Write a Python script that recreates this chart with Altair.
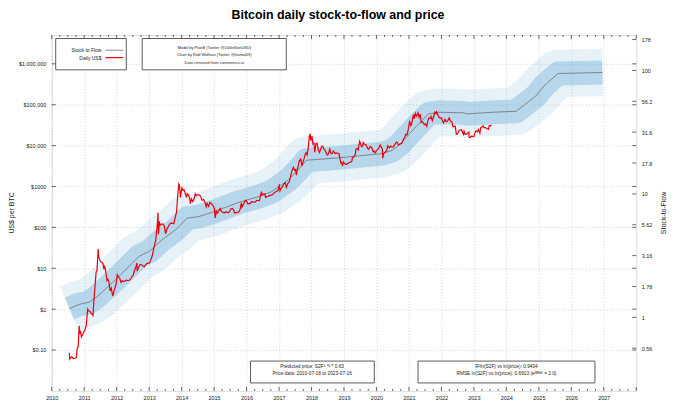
import altair as alt
import pandas as pd

# ---------------- data ----------------
price_dates = [
    "2010-07-18", "2010-07-22", "2010-08-01", "2010-08-15", "2010-09-01", "2010-09-20", "2010-10-05", "2010-10-15",
    "2010-10-25", "2010-11-06", "2010-11-10", "2010-11-20", "2010-12-01", "2010-12-15", "2010-12-28",
    "2011-01-10", "2011-01-25", "2011-02-09", "2011-02-20", "2011-03-05", "2011-03-20", "2011-04-01", "2011-04-10",
    "2011-04-20", "2011-05-01", "2011-05-15", "2011-05-25", "2011-06-02", "2011-06-08", "2011-06-13", "2011-06-20",
    "2011-07-01", "2011-07-15", "2011-07-25", "2011-08-01", "2011-08-10", "2011-08-20", "2011-09-01", "2011-09-15",
    "2011-09-25", "2011-10-05", "2011-10-20", "2011-11-01", "2011-11-18", "2011-11-28", "2011-12-10", "2011-12-25",
    "2012-01-08", "2012-01-15", "2012-01-25", "2012-02-05", "2012-02-20", "2012-03-05", "2012-03-20", "2012-04-05",
    "2012-04-20", "2012-05-05", "2012-05-20", "2012-06-05", "2012-06-20", "2012-07-05", "2012-07-20", "2012-08-05",
    "2012-08-16", "2012-08-19", "2012-09-01", "2012-09-18", "2012-10-05", "2012-10-20", "2012-11-05", "2012-11-20",
    "2012-12-05", "2012-12-20",
    "2013-01-05", "2013-01-20", "2013-02-05", "2013-02-20", "2013-03-05", "2013-03-15", "2013-03-28", "2013-04-05",
    "2013-04-10", "2013-04-12", "2013-04-16", "2013-04-25", "2013-05-05", "2013-05-20", "2013-06-05", "2013-06-20",
    "2013-07-05", "2013-07-20", "2013-08-05", "2013-08-20", "2013-09-05", "2013-09-20", "2013-10-05", "2013-10-20",
    "2013-11-05", "2013-11-18", "2013-11-30", "2013-12-05", "2013-12-10", "2013-12-18", "2013-12-28",
    "2014-01-05", "2014-01-15", "2014-01-28", "2014-02-10", "2014-02-25", "2014-03-05", "2014-03-15", "2014-03-25",
    "2014-04-05", "2014-04-10", "2014-04-20", "2014-05-05", "2014-05-20", "2014-06-03", "2014-06-15", "2014-07-01",
    "2014-07-15", "2014-08-01", "2014-08-18", "2014-09-05", "2014-09-22", "2014-10-05", "2014-10-15", "2014-11-01",
    "2014-11-15", "2014-12-01", "2014-12-15", "2014-12-28",
    "2015-01-05", "2015-01-14", "2015-01-25", "2015-02-05", "2015-02-20", "2015-03-10", "2015-03-25", "2015-04-10",
    "2015-04-25", "2015-05-10", "2015-05-25", "2015-06-10", "2015-06-25", "2015-07-10", "2015-07-25", "2015-08-10",
    "2015-08-19", "2015-09-01", "2015-09-20", "2015-10-05", "2015-10-20", "2015-11-04", "2015-11-11", "2015-11-25",
    "2015-12-10", "2015-12-25",
    "2016-01-05", "2016-01-15", "2016-01-28", "2016-02-10", "2016-02-25", "2016-03-10", "2016-03-25", "2016-04-10",
    "2016-04-25", "2016-05-10", "2016-05-25", "2016-06-05", "2016-06-17", "2016-06-25", "2016-07-10", "2016-07-25",
    "2016-08-02", "2016-08-15", "2016-09-01", "2016-09-20", "2016-10-05", "2016-10-20", "2016-11-05", "2016-11-20",
    "2016-12-05", "2016-12-20", "2016-12-30",
    "2017-01-04", "2017-01-11", "2017-01-25", "2017-02-10", "2017-02-25", "2017-03-10", "2017-03-24", "2017-04-10",
    "2017-04-25", "2017-05-10", "2017-05-25", "2017-06-11", "2017-06-25", "2017-07-05", "2017-07-16", "2017-07-25",
    "2017-08-05", "2017-08-17", "2017-08-25", "2017-09-01", "2017-09-15", "2017-09-25", "2017-10-10", "2017-10-20",
    "2017-11-01", "2017-11-12", "2017-11-25", "2017-12-07", "2017-12-17", "2017-12-22", "2017-12-30",
    "2018-01-06", "2018-01-17", "2018-01-28", "2018-02-06", "2018-02-20", "2018-03-05", "2018-03-18", "2018-04-01",
    "2018-04-24", "2018-05-05", "2018-05-20", "2018-06-05", "2018-06-15", "2018-06-29", "2018-07-10", "2018-07-25",
    "2018-08-10", "2018-08-20", "2018-09-05", "2018-09-20", "2018-10-05", "2018-10-20", "2018-11-05", "2018-11-20",
    "2018-11-25", "2018-12-05", "2018-12-15", "2018-12-25",
    "2019-01-10", "2019-01-28", "2019-02-10", "2019-02-25", "2019-03-15", "2019-03-30", "2019-04-05", "2019-04-25",
    "2019-05-10", "2019-05-15", "2019-05-30", "2019-06-10", "2019-06-26", "2019-07-05", "2019-07-16", "2019-07-30",
    "2019-08-06", "2019-08-20", "2019-09-05", "2019-09-24", "2019-10-05", "2019-10-25", "2019-11-10", "2019-11-25",
    "2019-12-05", "2019-12-18", "2019-12-28",
    "2020-01-10", "2020-01-25", "2020-02-12", "2020-02-25", "2020-03-08", "2020-03-12", "2020-03-20", "2020-04-05",
    "2020-04-25", "2020-05-08", "2020-05-25", "2020-06-10", "2020-06-25", "2020-07-10", "2020-07-28", "2020-08-17",
    "2020-09-05", "2020-09-20", "2020-10-10", "2020-10-28", "2020-11-10", "2020-11-25", "2020-12-10", "2020-12-27",
    "2021-01-08", "2021-01-22", "2021-02-01", "2021-02-10", "2021-02-21", "2021-02-28", "2021-03-13", "2021-03-25",
    "2021-04-13", "2021-04-25", "2021-05-08", "2021-05-19", "2021-05-25", "2021-06-10", "2021-06-22", "2021-07-05",
    "2021-07-20", "2021-08-01", "2021-08-14", "2021-08-31", "2021-09-06", "2021-09-21", "2021-10-05", "2021-10-20",
    "2021-11-01", "2021-11-08", "2021-11-20", "2021-12-05", "2021-12-20",
    "2022-01-01", "2022-01-10", "2022-01-24", "2022-02-10", "2022-02-24", "2022-03-10", "2022-03-29", "2022-04-12",
    "2022-04-30", "2022-05-11", "2022-05-25", "2022-06-05", "2022-06-18", "2022-07-01", "2022-07-20", "2022-08-14",
    "2022-08-25", "2022-09-06", "2022-09-13", "2022-09-25", "2022-10-10", "2022-10-25", "2022-11-05", "2022-11-09",
    "2022-11-21", "2022-12-05", "2022-12-20",
    "2023-01-01", "2023-01-14", "2023-01-25", "2023-02-10", "2023-02-20", "2023-03-10", "2023-03-18", "2023-04-01",
    "2023-04-14", "2023-04-25", "2023-05-10", "2023-05-25", "2023-06-15", "2023-06-23", "2023-07-05", "2023-07-13",
    "2023-07-16",
]
price_usd = [
    0.086, 0.06, 0.065, 0.068, 0.062, 0.063, 0.065, 0.11,
    0.12, 0.39, 0.25, 0.28, 0.21, 0.24, 0.28,
    0.31, 0.41, 1.0, 0.9, 0.9, 0.78, 0.75, 0.7,
    1.6, 3.2, 8.0, 8.8, 18.0, 29.6, 19.0, 17.0,
    15.0, 14.0, 13.5, 13.0, 9.5, 11.0, 8.2, 5.0,
    5.4, 4.8, 2.8, 3.3, 2.1, 2.5, 3.2, 4.0,
    7.0, 6.5, 6.0, 5.7, 4.5, 5.0, 4.7, 4.9,
    5.1, 5.0, 5.1, 5.4, 6.2, 6.8, 8.8, 10.9,
    13.5, 8.5, 10.3, 12.2, 12.3, 11.6, 10.8, 11.9,
    13.0, 13.4,
    13.5, 16.0, 20.5, 29.5, 40, 47, 90, 140,
    230, 100, 68, 140, 112, 120, 121, 108,
    70, 92, 105, 120, 127, 125, 123, 170,
    240, 600, 1150, 1100, 950, 540, 750,
    930, 820, 830, 680, 540, 670, 630, 580,
    460, 380, 500, 430, 490, 660, 590, 640,
    620, 590, 460, 480, 400, 320, 390, 325,
    410, 380, 350, 320,
    275, 170, 250, 220, 245, 290, 245, 235,
    225, 240, 237, 228, 245, 285, 290, 265,
    225, 230, 230, 240, 270, 400, 310, 360,
    420, 455,
    430, 375, 380, 380, 425, 415, 415, 420,
    460, 455, 450, 580, 750, 620, 650, 655,
    540, 570, 575, 605, 615, 635, 700, 735,
    760, 800, 960,
    1130, 780, 900, 990, 1180, 1250, 950, 1200,
    1280, 1750, 2400, 2950, 2500, 2600, 1900, 2700,
    3200, 4300, 4300, 4900, 3200, 3900, 4800, 6000,
    6700, 5900, 8700, 16500, 19500, 13800, 14000,
    17100, 10900, 11500, 6900, 11100, 11400, 7800, 6800,
    9600, 9800, 8200, 7600, 6500, 5900, 6300, 8200,
    6300, 6400, 7400, 6400, 6600, 6500, 6400, 4500,
    3800, 3900, 3200, 4000,
    3600, 3450, 3650, 3800, 3950, 4100, 4950, 5400,
    6300, 8100, 8600, 7900, 12800, 11500, 9500, 9600,
    11900, 10800, 10500, 8500, 8100, 9500, 8800, 7100,
    7400, 6600, 7300,
    7900, 8400, 10300, 9300, 8100, 4900, 6200, 6800,
    7500, 9900, 8900, 9800, 9200, 9250, 11000, 12300,
    10300, 10900, 11300, 13600, 15300, 19000, 18300, 26300,
    40500, 30800, 33500, 46000, 57500, 45200, 61200, 52300,
    63500, 49000, 58800, 37000, 38500, 36700, 32500, 34000,
    29800, 40000, 47500, 47100, 51700, 40600, 51500, 66000,
    61000, 67500, 58500, 49000, 46700,
    47700, 41800, 36300, 44000, 38300, 39300, 47400, 40100,
    37700, 29000, 29500, 29800, 19000, 19200, 23400, 24400,
    21500, 18800, 22400, 18900, 19100, 20100, 21300, 16000,
    15800, 17100, 16800,
    16600, 20800, 23000, 21700, 24600, 20200, 27300, 28500,
    30500, 27500, 27600, 26300, 25100, 30700, 30500, 31400,
    30300,
]

model_dates = [
    "2010-07-18", "2010-11-10", "2011-03-01", "2011-06-03", "2012-01-30", "2012-09-09", "2013-01-01",
    "2013-05-27", "2013-10-23", "2014-03-04", "2014-07-13", "2014-12-02", "2015-10-01", "2016-05-12",
    "2016-10-08", "2017-04-13", "2017-08-01", "2017-11-04", "2018-10-23", "2020-03-07", "2020-06-28",
    "2020-09-28", "2021-04-02", "2021-08-11", "2021-12-02", "2022-09-06", "2022-10-12", "2023-09-12",
    "2024-04-22", "2024-12-02", "2025-03-01", "2025-08-05", "2026-12-17",
]
model_usd = [
    1.03, 1.31, 1.49, 2.08, 6.4, 19.6, 25.9,
    49.9, 87, 168, 184, 230, 406, 562,
    744, 1432, 2506, 4386, 4990, 6380, 7680,
    11170, 31100, 59900, 65500, 63400, 59900, 66200,
    69300, 167000, 292000, 581000, 615000,
]

year_ticks = list(range(2010, 2029))
year_labels = list(range(2010, 2028))
price_ticks = [0.1, 1, 10, 100, 1000, 10000, 100000, 1000000]
price_tick_labels = ["$0.10", "$1", "$10", "$100", "$1000", "$10,000", "$100,000", "$1,000,000"]
s2f_ticks = [0.5623, 1, 1.778, 3.162, 5.623, 10, 17.78, 31.62, 56.23, 100, 177.8]
s2f_tick_labels = ["0.56", "1", "1.78", "3.16", "5.62", "10", "17.8", "31.6", "56.2", "100", "178"]

title_text = "Bitcoin daily stock-to-flow and price"
legend_labels = ["Stock to Flow", "Daily US$"]
credit_lines = [
    "Model by PlanB (Twitter @100trillionUSD)",
    "Chart by Rob Wolfson (Twitter @hamal03)",
    "Data retrieved from coinmetrics.io",
]
fit_lines = ["Predicted price: S2F³·⁰² * 0.63", "Price data: 2010-07-18 to 2023-07-16"]
stat_lines = ["R²ln(S2F) vs ln(price): 0.9404", "RMSE ln(S2F) vs ln(price): 0.6913 (eᴿᴹˢᴱ = 2.0)"]

# ---------------- scales / layout ----------------
W, H = 588, 358
S2F_EXP, S2F_COEF = 3.02, 0.63
PRICE_DOMAIN = [0.01, 5.07e6]
S2F_DOMAIN = [(p / S2F_COEF) ** (1.0 / S2F_EXP) for p in PRICE_DOMAIN]


def ms(y, m=1, d=1):
    return int(pd.Timestamp(year=y, month=m, day=d, tz="UTC").timestamp() * 1000)


X_DOMAIN = [ms(year_ticks[0]), ms(year_ticks[-1])]
FONT = "Liberation Sans"
BAND = "#6baed6"

price_df = pd.DataFrame({"date": price_dates, "price": price_usd})
model_df = pd.DataFrame({"date": model_dates, "price": model_usd})
major_df = pd.DataFrame({"date": [f"{y}-01-01" for y in year_ticks]})
minor_df = pd.DataFrame({"date": [f"{y}-{m:02d}-01" for y in year_ticks[:-1] for m in (4, 7, 10)]})
pt_df = pd.DataFrame({"price": price_ticks})
s2f_df = pd.DataFrame({"s2f": s2f_ticks})


def label_expr(values, labels):
    expr = "''"
    for v, lab in reversed(list(zip(values, labels))):
        expr = f"datum.value < {v * 1.2} ? '{lab}' : ({expr})"
    return expr


xscale = alt.Scale(domain=X_DOMAIN)
yscale = alt.Scale(type="log", domain=PRICE_DOMAIN)
grid_kw = dict(grid=True, gridColor="#b8b8b8", gridDash=[1, 2], gridWidth=0.6)

X = alt.X(
    "date:T", scale=xscale, title=None,
    axis=alt.Axis(values=[ms(y) for y in year_labels], labelExpr="utcFormat(datum.value, '%Y')",
                  tickSize=0, domain=False, labelPadding=5, labelFontSize=5.5, labelFlush=False,
                  labelColor="#222", labelFont=FONT, **grid_kw),
)
Y = alt.Y(
    "price:Q", scale=yscale, title=None,
    axis=alt.Axis(values=price_ticks, labelExpr=label_expr(price_ticks, price_tick_labels),
                  tickSize=0, domain=False, labelPadding=6, labelFontSize=5.5, labelColor="#222",
                  labelFont=FONT, **grid_kw),
)

light_band = alt.Chart(model_df).mark_line(
    stroke=BAND, strokeOpacity=0.17, strokeWidth=48, strokeCap="butt", strokeJoin="round"
).encode(x=X, y=Y)
dark_band = alt.Chart(model_df).mark_line(
    stroke=BAND, strokeOpacity=0.4, strokeWidth=24, strokeCap="butt", strokeJoin="round"
).encode(x=X, y=Y)
model_line = alt.Chart(model_df).mark_line(stroke="#707070", strokeWidth=0.8).encode(x=X, y=Y)
price_line = alt.Chart(price_df).mark_line(stroke="#e8000b", strokeWidth=1.2).encode(x=X, y=Y)

ticks = []
for df, ln in ((major_df, 4), (minor_df, 2)):
    ticks.append(alt.Chart(df).mark_rule(stroke="#222", strokeWidth=0.7).encode(
        x=X, y=alt.value(H), y2=alt.value(H - ln)))
    ticks.append(alt.Chart(df).mark_rule(stroke="#222", strokeWidth=0.7).encode(
        x=X, y=alt.value(0), y2=alt.value(ln)))
ticks.append(alt.Chart(pt_df).mark_rule(stroke="#222", strokeWidth=0.7).encode(
    y=Y, x=alt.value(0), x2=alt.value(4)))
ticks.append(alt.Chart(pt_df).mark_rule(stroke="#222", strokeWidth=0.7).encode(
    y=Y, x=alt.value(W - 4), x2=alt.value(W)))

one = alt.Data(values=[{}])


def box(x1, x2, y1, y2):
    return alt.Chart(one).mark_rect(fill="white", stroke="#333", strokeWidth=0.8).encode(
        x=alt.value(x1), x2=alt.value(x2), y=alt.value(y1), y2=alt.value(y2))


def text(s, x, y, size, align="center", color="#222", **kw):
    return alt.Chart(one).mark_text(
        text=s, fontSize=size, align=align, baseline="middle", font=FONT, color=color, **kw
    ).encode(x=alt.value(x), y=alt.value(y))


def seg(x1, x2, y, color, w):
    return alt.Chart(one).mark_rule(stroke=color, strokeWidth=w).encode(
        x=alt.value(x1), x2=alt.value(x2), y=alt.value(y))


annots = [
    box(4, 75, 3.5, 35),
    text(legend_labels[0], 50, 15.3, 5, align="right"),
    text(legend_labels[1], 50, 22.7, 5, align="right"),
    seg(54, 72, 15.3, "#707070", 0.8),
    seg(54, 72, 22.7, "#e8000b", 1.2),
    box(91, 236, 3.5, 35),
    text(credit_lines[0], 163.5, 13.3, 4),
    text(credit_lines[1], 163.5, 20.3, 4),
    text(credit_lines[2], 163.5, 27.7, 4),
    box(200, 324.5, 328, 350),
    text(fit_lines[0], 262, 334, 4.8),
    text(fit_lines[1], 262, 341, 4.8),
    box(368.5, 546.5, 328, 350),
    text(stat_lines[0], 457.5, 333.5, 4.8),
    text(stat_lines[1], 457.5, 341, 4.8),
    text(title_text, 288, -20, 12.5, fontWeight="bold", color="black"),
    text("US$ per BTC", -40, 179, 7, angle=270),
    text("Stock-to-Flow", 616, 179, 7, angle=270),
]

price_layers = alt.layer(light_band, dark_band, model_line, price_line, *ticks, *annots)

s2f_axis = alt.Chart(s2f_df).mark_rule(stroke="#222", strokeWidth=0.7).encode(
    y=alt.Y("s2f:Q", scale=alt.Scale(type="log", domain=S2F_DOMAIN), title=None,
            axis=alt.Axis(orient="right", values=s2f_ticks,
                          labelExpr=label_expr(s2f_ticks, s2f_tick_labels),
                          tickSize=0, domain=False, grid=False, labelPadding=5,
                          labelFontSize=5.5, labelColor="#222", labelFont=FONT)),
    x=alt.value(W - 4), x2=alt.value(W),
)

chart = alt.layer(price_layers, s2f_axis).resolve_scale(y="independent").properties(
    width=W, height=H,
    autosize=alt.AutoSizeParams(type="none"),
    padding={"left": 44, "top": 26, "right": 36, "bottom": 14},
).configure_view(stroke="#222", strokeWidth=1).configure(font=FONT, background="white")

chart.save("out.html", embed_options={"renderer": "svg", "actions": False})
